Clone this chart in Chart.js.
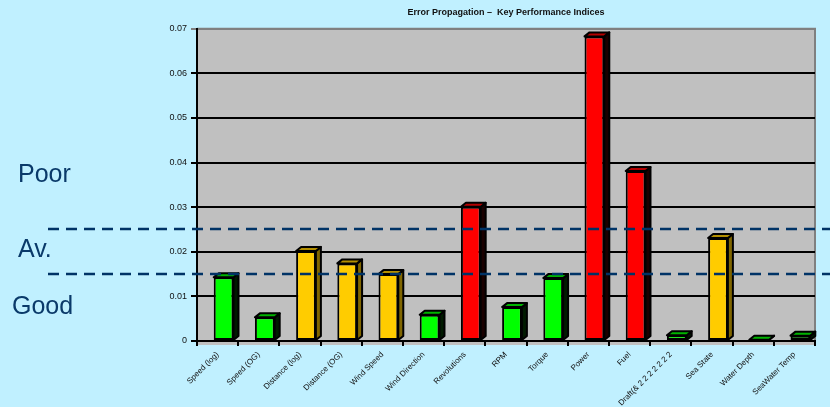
<!DOCTYPE html>
<html>
<head>
<meta charset="utf-8">
<script src="https://cdn.jsdelivr.net/npm/chart.js@4.4.1/dist/chart.umd.min.js"></script>
<style>
  html, body { margin: 0; padding: 0; background: #C0F0FF; }
  #wrap { width: 830px; height: 407px; position: relative; }
</style>
</head>
<body>
<div id="wrap"><canvas id="c" width="830" height="407"></canvas></div>
<script>
const categories = ['Speed (log)', 'Speed (OG)', 'Distance (log)', 'Distance (OG)', 'Wind Speed', 'Wind Direction',
  'Revolutions', 'RPM', 'Torque', 'Power', 'Fuel', 'Draft(& 2 2 2 2 2 2 2', 'Sea State', 'Water Depth', 'SeaWater Temp'];
const values = [0.0143, 0.0053, 0.0202, 0.0174, 0.0150, 0.0059, 0.0301, 0.0076, 0.0141, 0.0683, 0.0381, 0.0013, 0.0231, 0.0003, 0.0012];
const barColors = ['#00FF00', '#00FF00', '#FFCC00', '#FFCC00', '#FFCC00', '#00FF00', '#FF0000', '#00FF00', '#00FF00',
  '#FF0000', '#FF0000', '#00FF00', '#FFCC00', '#00FF00', '#00FF00'];
const yTickLabels = ['0', '0.01', '0.02', '0.03', '0.04', '0.05', '0.06', '0.07'];
const bandLimits = [0.015, 0.025];
const bandLabels = ['Poor', 'Av.', 'Good'];
const titleText = 'Error Propagation \u2013  Key Performance Indices';

function shade(hex, f) {
  const n = parseInt(hex.slice(1), 16);
  const r = Math.round(((n >> 16) & 255) * f), g = Math.round(((n >> 8) & 255) * f), b = Math.round((n & 255) * f);
  return 'rgb(' + r + ',' + g + ',' + b + ')';
}

const SHIFT = 6, DX = 5, DY = 4;

const decor = {
  id: 'decor',
  beforeDraw(chart) {
    const { ctx, chartArea: a } = chart;
    ctx.save();
    ctx.fillStyle = '#C0C0C0';
    ctx.fillRect(a.left, a.top, a.right - a.left, a.bottom - a.top + 4);
    ctx.strokeStyle = '#808080';
    ctx.lineWidth = 2;
    ctx.beginPath();
    ctx.moveTo(a.left, a.top);
    ctx.lineTo(a.right, a.top);
    ctx.lineTo(a.right, a.bottom + 4);
    ctx.stroke();
    ctx.restore();
  },
  beforeDatasetsDraw(chart) {
    chart.ctx.save();
    chart.ctx.translate(SHIFT, 0);
  },
  afterDatasetsDraw(chart) {
    const ctx = chart.ctx;
    const meta = chart.getDatasetMeta(0);
    meta.data.forEach((bar, i) => {
      const p = bar.getProps(['x', 'y', 'base', 'width'], true);
      const l = p.x - p.width / 2, r = p.x + p.width / 2, t = p.y, b = p.base;
      const col = barColors[i];
      ctx.lineWidth = 2;
      ctx.lineJoin = 'round';
      ctx.strokeStyle = '#000';
      // side
      ctx.beginPath();
      ctx.moveTo(r, t); ctx.lineTo(r + DX, t - DY); ctx.lineTo(r + DX, b - DY); ctx.lineTo(r, b); ctx.closePath();
      ctx.fillStyle = shade(col, col === '#FFCC00' ? 0.5 : 0.1);
      ctx.fill(); ctx.stroke();
      // top
      ctx.beginPath();
      ctx.moveTo(l, t); ctx.lineTo(l + DX, t - DY); ctx.lineTo(r + DX, t - DY); ctx.lineTo(r, t); ctx.closePath();
      ctx.fillStyle = shade(col, 0.7);
      ctx.fill(); ctx.stroke();
    });
    ctx.restore();

    // threshold dashed lines and band labels
    const y = chart.scales.y;
    ctx.save();
    ctx.strokeStyle = '#003366';
    ctx.lineWidth = 2.5;
    ctx.setLineDash([11, 7]);
    bandLimits.forEach(v => {
      const py = Math.round(y.getPixelForValue(v));
      ctx.beginPath();
      ctx.moveTo(48, py);
      ctx.lineTo(830, py);
      ctx.stroke();
    });
    ctx.setLineDash([]);
    ctx.fillStyle = '#0A3A6A';
    ctx.font = '25px "Liberation Sans", Arial, sans-serif';
    ctx.textBaseline = 'middle';
    ctx.textAlign = 'left';
    ctx.fillText(bandLabels[0], 18, 175);
    ctx.fillText(bandLabels[1], 18, 250);
    ctx.fillText(bandLabels[2], 12, 307);
    ctx.restore();
  }
};

new Chart(document.getElementById('c'), {
  type: 'bar',
  data: {
    labels: categories,
    datasets: [{
      data: values,
      backgroundColor: barColors,
      borderColor: '#000',
      borderWidth: 2,
      borderSkipped: false,
      barPercentage: 0.48,
      categoryPercentage: 1.0
    }]
  },
  options: {
    responsive: false,
    animation: false,
    devicePixelRatio: 1,
    layout: { padding: { left: 0, right: 15, top: 0, bottom: 0 } },
    plugins: {
      legend: { display: false },
      tooltip: { enabled: false },
      title: {
        display: true,
        text: titleText,
        fullSize: false,
        color: '#111',
        font: { family: '"Liberation Sans", Arial, sans-serif', size: 9, weight: 'bold' },
        padding: { top: 7, bottom: 11 }
      }
    },
    scales: {
      x: {
        offset: true,
        afterFit(s) { s.height = 66; },
        grid: { display: true, drawOnChartArea: false, offset: true, color: '#000', lineWidth: 2, tickLength: 5 },
        border: { display: true, color: '#000', width: 2 },
        ticks: {
          autoSkip: false, maxRotation: 45, minRotation: 45, padding: 4,
          color: '#111',
          font: { family: '"Liberation Sans", Arial, sans-serif', size: 8 }
        }
      },
      y: {
        min: 0, max: 0.07,
        afterFit(s) { s.width = 197; },
        grid: {
          color: ctx => (ctx.tick && ctx.tick.value >= 0.0699 ? '#808080' : '#000'),
          lineWidth: 2, tickLength: 6
        },
        border: { display: true, color: '#000', width: 2 },
        ticks: {
          stepSize: 0.01,
          padding: 4,
          color: '#111',
          font: { family: '"Liberation Sans", Arial, sans-serif', size: 9 },
          callback: (v, i) => yTickLabels[i]
        }
      }
    }
  },
  plugins: [decor]
});
</script>
</body>
</html>
